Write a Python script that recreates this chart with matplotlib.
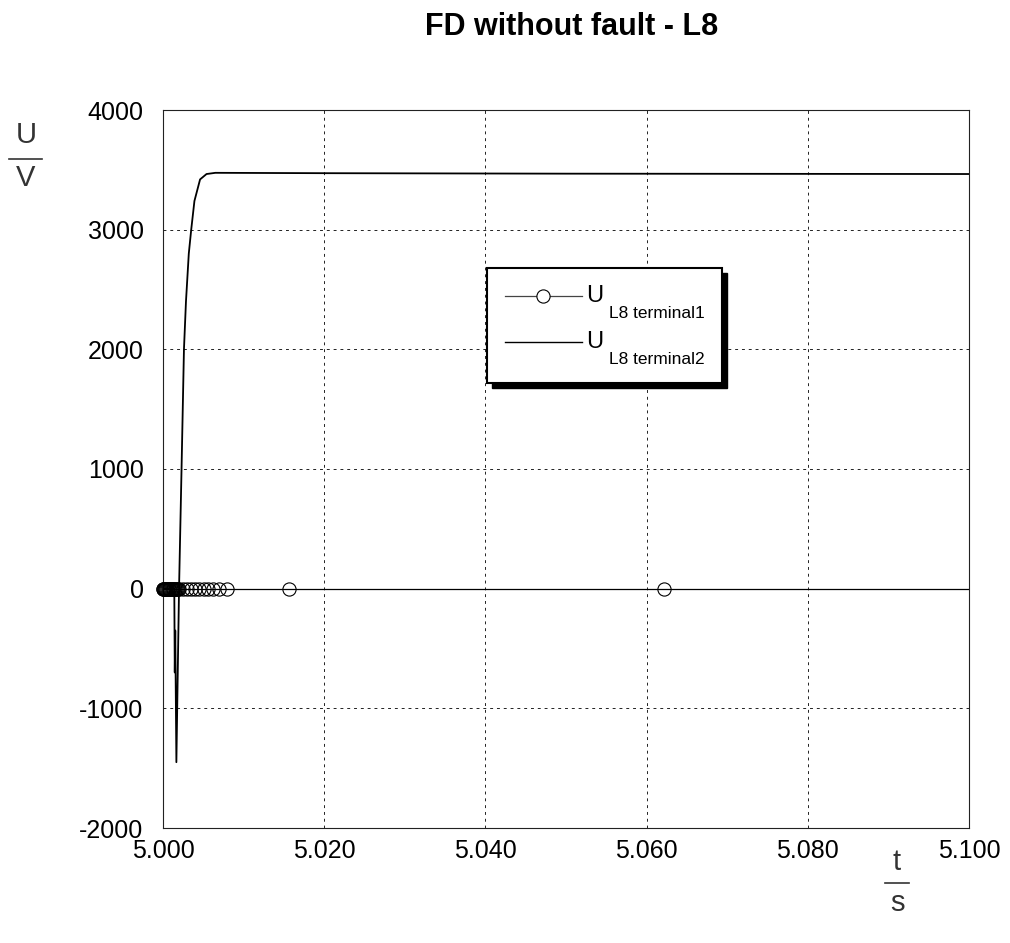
"""
Line voltages at both terminals of L8, frequency-dependent model, no fault.
"""

import matplotlib
matplotlib.use("Agg")
import matplotlib.pyplot as plt
from matplotlib.lines import Line2D
from matplotlib.patches import Rectangle

plt.rcParams["font.family"] = ["Liberation Sans", "DejaVu Sans"]

# ---------------------------------------------------------------------------
# Data
# ---------------------------------------------------------------------------
# terminal 1 stays at zero; solver output points (variable step)
T1_TIME = [5.00000, 5.00005, 5.00010, 5.00015, 5.00020, 5.00030, 5.00040,
           5.00050, 5.00060, 5.00070, 5.00080, 5.00090, 5.00100, 5.00110,
           5.00120, 5.00130, 5.00140, 5.00150, 5.00160, 5.00170, 5.00180,
           5.00200, 5.00248, 5.00298, 5.00347, 5.00397, 5.00447, 5.00509,
           5.00558, 5.00620, 5.00695, 5.00794, 5.01563, 5.06216, 5.10000]
T1_VOLT = [0.0] * len(T1_TIME)
T1_MARK = list(range(len(T1_TIME) - 1))   # last point is the trace end only

# terminal 2: short negative spike, then charge-up to ~3.47 kV
T2_TIME = [5.00000, 5.00140, 5.00146, 5.00152, 5.00166, 5.00199, 5.00230,
           5.00260, 5.00285, 5.00320, 5.00350, 5.00390, 5.00460, 5.00540,
           5.00650, 5.02000, 5.05000, 5.10000]
T2_VOLT = [0, 0, -700, -350, -1450, 0, 1000,
           2000, 2400, 2800, 3000, 3240, 3420, 3465,
           3475, 3472, 3468, 3465]

X_TICKS = [5.000, 5.020, 5.040, 5.060, 5.080, 5.100]
Y_TICKS = [-2000, -1000, 0, 1000, 2000, 3000, 4000]

TITLE = "FD without fault - L8"
SERIES = ["L8 terminal1", "L8 terminal2"]

# ---------------------------------------------------------------------------
# Figure
# ---------------------------------------------------------------------------
W, H = 1010, 943
fig = plt.figure(figsize=(W / 100, H / 100), dpi=100)
ax = fig.add_axes([163 / W, 1 - 828 / H, (969 - 163) / W, (828 - 110) / H])


def fx(px):
    return px / W


def fy(py):
    return 1 - py / H


ax.plot(T1_TIME, T1_VOLT, color="black", lw=0.9, zorder=4)
ax.plot([T1_TIME[i] for i in T1_MARK], [T1_VOLT[i] for i in T1_MARK],
        ls="none", marker="o", ms=9.5, mfc="none", mec="black", mew=0.8,
        zorder=4, clip_on=False)
ax.plot(T2_TIME, T2_VOLT, color="black", lw=1.3, zorder=5)

ax.set_xlim(X_TICKS[0], X_TICKS[-1])
ax.set_ylim(Y_TICKS[0], Y_TICKS[-1])
ax.set_xticks(X_TICKS)
ax.set_yticks(Y_TICKS)
ax.set_xticklabels([f"{v:.3f}" for v in X_TICKS])
ax.set_yticklabels([f"{v:d}" for v in Y_TICKS])
ax.tick_params(length=0, labelsize=18, pad=8)
ax.tick_params(axis="y", pad=14)
ax.grid(True, color="#222222", lw=0.7, ls=(0, (3, 4)))
for s in ax.spines.values():
    s.set_linewidth(0.8)
    s.set_color("#222222")

fig.text(fx(572), fy(27), TITLE, ha="center", va="center",
         fontsize=22, fontweight="bold")

# unit fractions for the axes
fig.text(fx(26), fy(135), "U", ha="center", va="center", fontsize=21,
         color="#333333")
fig.add_artist(Line2D([fx(9), fx(42)], [fy(159), fy(159)],
                      color="#333333", lw=1.2))
fig.text(fx(26), fy(178), "V", ha="center", va="center", fontsize=21,
         color="#333333")

fig.text(fx(897), fy(862), "t", ha="center", va="center", fontsize=21,
         color="#333333")
fig.add_artist(Line2D([fx(885), fx(909)], [fy(883), fy(883)],
                      color="#333333", lw=1.2))
fig.text(fx(897), fy(903), "s", ha="center", va="center", fontsize=21,
         color="#333333")

# legend box with drop shadow
box_x0, box_y0, box_x1, box_y1 = 487, 268, 722, 383
fig.add_artist(Rectangle((fx(box_x0 + 5), fy(box_y1 + 5)),
                         (box_x1 - box_x0) / W, (box_y1 - box_y0) / H,
                         facecolor="black", edgecolor="black", zorder=10))
fig.add_artist(Rectangle((fx(box_x0), fy(box_y1)),
                         (box_x1 - box_x0) / W, (box_y1 - box_y0) / H,
                         facecolor="white", edgecolor="black", lw=1.5,
                         zorder=11))
rows = [296, 342]
fig.add_artist(Line2D([fx(505), fx(543), fx(582)],
                      [fy(rows[0])] * 3, color="#444444", lw=0.9,
                      marker="o", markevery=[1], ms=9.5, mfc="white",
                      mec="black", mew=0.8, zorder=12))
fig.add_artist(Line2D([fx(505), fx(582)], [fy(rows[1]), fy(rows[1])],
                      color="black", lw=1.0, zorder=12))
for r, name in zip(rows, SERIES):
    fig.text(fx(586), fy(r), "U", ha="left", va="center", fontsize=17,
             zorder=13)
    fig.text(fx(609), fy(r + 17), name, ha="left", va="center",
             fontsize=12.5, zorder=13)

fig.savefig("out.png", dpi=100, facecolor="white")
